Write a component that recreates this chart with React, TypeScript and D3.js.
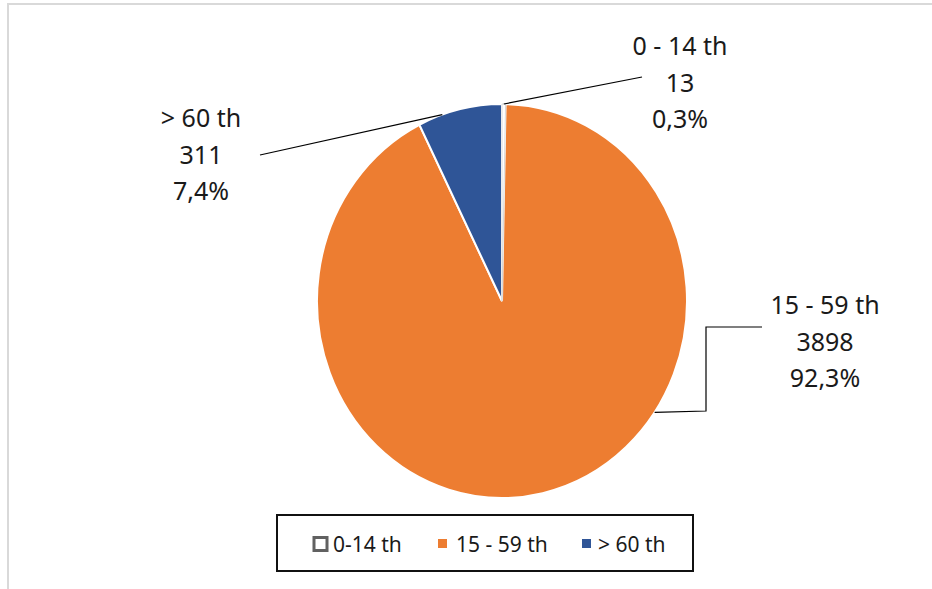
import React from 'react';
import * as d3 from 'd3';

// Age groups and population counts
const categories = ['0 - 14 th', '15 - 59 th', '> 60 th'];
const legendLabels = ['0-14 th', '15 - 59 th', '> 60 th'];
const values = [13, 3898, 311];
const colors = ['#FFFFFF', '#ED7D31', '#2F5597'];

const W = 932;
const H = 589;
const cx = 502;
const cy = 301;
const rx = 185;
const ry = 197;

// where each leader line touches the pie (fraction along its slice), and label layout
const anchorFrac = [0.5, 0.371, 0.29];
const labelPos = [
  { x: 680, y: 45, path: [[642, 77]] },
  { x: 825, y: 304, path: [[706, 411], [706, 327], [762, 327]] },
  { x: 201, y: 117, path: [[260, 155]] }
];

const App: React.FC = () => {
  const total = d3.sum(values);
  const arcs = d3.pie<number>().sort(null).value(d => d)(values);
  const arc = d3.arc<d3.PieArcDatum<number>>().innerRadius(0).outerRadius(rx);
  const fmt = (v: number) => (v / total * 100).toFixed(1).replace('.', ',') + '%';
  const font = "'Noto Sans', 'Open Sans', sans-serif";

  return <svg width={W} height={H} style={{ position: 'absolute', left: 0, top: 0, display: 'block', background: '#fff' }}>
      <rect x={8} y={4} width={W} height={H} fill="none" stroke="#d9d9d9" strokeWidth={2} />
      <g transform={`translate(${cx},${cy}) scale(1,${ry / rx})`}>
        {arcs.map((a, i) => <path key={i} d={arc(a) || ''} fill={colors[i]} stroke="#fff" strokeWidth={2} />)}
        {/* faint outline on the tiny white slice */}
        <path d={arc(arcs[0]) || ''} fill="none" stroke="#d0d0d0" strokeWidth={0.8} />
      </g>
      {arcs.map((a, i) => {
      const ang = a.startAngle + (a.endAngle - a.startAngle) * anchorFrac[i];
      const ax = cx + rx * Math.sin(ang);
      const ay = cy - ry * Math.cos(ang);
      const pts = [[ax, ay], ...labelPos[i].path];
      const line = d3.line()(pts as [number, number][]) || '';
      return <path key={i} d={line} fill="none" stroke="#000" strokeWidth={1.2} />;
    })}
      {arcs.map((a, i) => {
      const lp = labelPos[i];
      const lines = [categories[i], String(values[i]), fmt(values[i])];
      return <text key={i} fontFamily={font} fontSize={25} fill="#1a1a1a" textAnchor="middle">
            {lines.map((t, j) => <tspan key={j} x={lp.x} y={lp.y + j * 36.5} dominantBaseline="central">{t}</tspan>)}
          </text>;
    })}
      {/* legend */}
      <rect x={277} y={515} width={416} height={56} fill="#fff" stroke="#111" strokeWidth={2} />
      <rect x={314} y={537.5} width={13} height={13} fill="#fff" stroke="#616161" strokeWidth={3} />
      <text x={333} y={544} fontFamily={font} fontSize={21} fill="#1a1a1a" dominantBaseline="central">{legendLabels[0]}</text>
      <rect x={438} y={539} width={9} height={9} fill={colors[1]} />
      <text x={456} y={544} fontFamily={font} fontSize={21} fill="#1a1a1a" dominantBaseline="central">{legendLabels[1]}</text>
      <rect x={582} y={539} width={9} height={9} fill={colors[2]} />
      <text x={598} y={544} fontFamily={font} fontSize={21} fill="#1a1a1a" dominantBaseline="central">{legendLabels[2]}</text>
    </svg>;
};

export default App;
